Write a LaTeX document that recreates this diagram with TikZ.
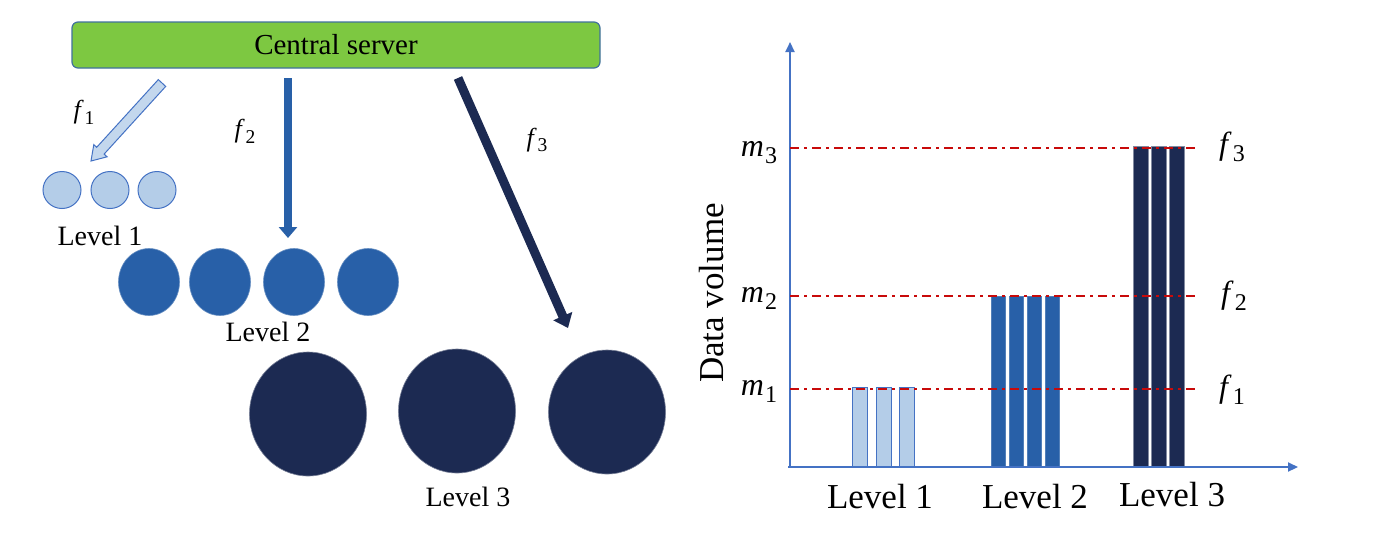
\documentclass[tikz,border=0pt]{standalone}
\usepackage{fontspec}
\setmainfont{Liberation Serif}
\usetikzlibrary{arrows.meta,shapes.geometric}
\definecolor{srvgreen}{RGB}{125,200,65}
\definecolor{srvedge}{RGB}{65,113,156}
\definecolor{lightb}{RGB}{180,205,232}
\definecolor{bordblue}{RGB}{68,114,196}
\definecolor{midb}{RGB}{40,96,168}
\definecolor{navy}{RGB}{28,42,82}
\definecolor{refred}{RGB}{200,10,10}
\newcommand{\symsub}[2]{\textit{#1}\kern1pt\raisebox{-0.22em}{\scalebox{0.75}{#2}}}
\tikzset{
  lab/.style={font=\fontsize{28}{32}\selectfont, inner sep=0pt},
  clab/.style={font=\fontsize{35}{40}\selectfont, inner sep=0pt},
  fl/.style={font=\fontsize{26}{30}\selectfont, inner sep=0pt},
  fr/.style={font=\fontsize{32}{36}\selectfont, inner sep=0pt},
  server/.style={draw=srvedge, line width=1.2pt, fill=srvgreen, rounded corners=6pt,
     minimum width=528pt, minimum height=46pt, inner sep=0pt, font=\fontsize{29}{33}\selectfont},
  cone/.style={ellipse, draw=bordblue, line width=1pt, fill=lightb, minimum width=38pt, minimum height=37pt, inner sep=0pt},
  ctwo/.style={ellipse, fill=midb, draw=midb!70!white, line width=0.6pt, minimum width=61pt, minimum height=67pt, inner sep=0pt},
  cthree/.style={ellipse, fill=navy, draw=navy!60!white, line width=0.6pt, minimum width=117pt, minimum height=124pt, inner sep=0pt},
  barone/.style={draw=bordblue, line width=1pt, fill=lightb, minimum width=15pt, inner sep=0pt, anchor=south west},
  bartwo/.style={draw=midb!80!white, line width=0.6pt, fill=midb, minimum width=14pt, inner sep=0pt, anchor=south west},
  barthree/.style={draw=navy!55!white, line width=0.8pt, fill=navy, minimum width=15pt, inner sep=0pt, anchor=south west},
  axisline/.style={draw=bordblue, line width=2pt, -{Triangle[width=9pt,length=10pt]}},
  refline/.style={draw=refred, line width=2.6pt, dash pattern=on 9pt off 5pt on 3pt off 5pt},
}
\begin{document}
\begin{tikzpicture}[x=1pt,y=-1pt]
\useasboundingbox[fill=white] (0,0) rectangle (1380,542);

% ---- left part ----
\node[server] (cs) at (336,45) {Central server};

% f1 block arrow (outline)
\coordinate (a1tail) at (162,83);
\coordinate (a1tip) at (91,161);
\draw[draw=bordblue, fill=lightb!80!white, line width=1pt, line join=miter]
  (165.7,86.4) -- (104.1,154.1) -- (107.1,156.8) -- (a1tip) -- (93.8,144.6)
  -- (96.7,147.3) -- (158.3,79.6) -- cycle;
\node[fl] (f1l) at (84,112) {\symsub{f}{1}};

% f2 arrow
\coordinate (a2tail) at (288,78);
\coordinate (a2tip) at (288,238);
\draw[draw=midb, line width=8pt, -{Triangle[width=18pt,length=11pt]}] (a2tail) -- (a2tip);
\node[fl] (f2l) at (245,131) {\symsub{f}{2}};

% f3 arrow
\coordinate (a3tail) at (458,78);
\coordinate (a3tip) at (568,328);
\draw[draw=navy, line width=9pt, -{Triangle[width=20pt,length=13pt]}] (a3tail) -- (a3tip);
\node[fl] (f3l) at (537,140) {\symsub{f}{3}};

% level 1 circles
\node[cone] (l1a) at (62,190) {};
\node[cone] (l1b) at (110,190) {};
\node[cone] (l1c) at (157,190) {};
\node[lab] (lv1) at (100,236) {Level 1};

% level 2 circles
\node[ctwo] (l2a) at (149,282) {};
\node[ctwo] (l2b) at (220,282) {};
\node[ctwo] (l2c) at (294,282) {};
\node[ctwo] (l2d) at (368,282) {};
\node[lab] (lv2) at (268,332) {Level 2};

% level 3 circles
\node[cthree] (l3a) at (308,414) {};
\node[cthree] (l3b) at (457,411) {};
\node[cthree] (l3c) at (607,412) {};
\node[lab] (lv3) at (468,497) {Level 3};

% ---- right chart ----
\coordinate (origin) at (790,467);
\coordinate (ytop) at (790,42);
\coordinate (xend) at (1298,467);
\coordinate (xstart) at (788,467);

% bars level 1
\node[barone, minimum height=79pt] (b1a) at (852,467) {};
\node[barone, minimum height=79pt] (b1b) at (876,467) {};
\node[barone, minimum height=79pt] (b1c) at (899,467) {};
% bars level 2
\node[bartwo, minimum height=170pt] (b2a) at (991,467) {};
\node[bartwo, minimum height=170pt] (b2b) at (1009,467) {};
\node[bartwo, minimum height=170pt] (b2c) at (1027,467) {};
\node[bartwo, minimum height=170pt] (b2d) at (1045,467) {};
% bars level 3
\node[barthree, minimum height=320pt] (b3a) at (1133,467) {};
\node[barthree, minimum height=320pt] (b3b) at (1151,467) {};
\node[barthree, minimum height=320pt] (b3c) at (1169,467) {};

% axes
\draw[axisline] (origin) -- (ytop);
\draw[axisline] (xstart) -- (xend);

% reference lines
\coordinate (r3a) at (790,148); \coordinate (r3b) at (1196,148);
\coordinate (r2a) at (790,296); \coordinate (r2b) at (1196,296);
\coordinate (r1a) at (790,389); \coordinate (r1b) at (1196,389);
\draw[refline] (r3a) -- (r3b);
\draw[refline] (r2a) -- (r2b);
\draw[refline] (r1a) -- (r1b);

\node[fr] (m3) at (759,153) {\symsub{m}{3}};
\node[fr] (m2) at (759,298) {\symsub{m}{2}};
\node[fr] (m1) at (759,391) {\symsub{m}{1}};
\node[fr] (f3r) at (1232,147) {\symsub{f}{3}};
\node[fr] (f2r) at (1234,296) {\symsub{f}{2}};
\node[fr] (f1r) at (1232,390) {\symsub{f}{1}};

\node[clab, rotate=90] (dv) at (712,293) {Data volume};
\node[clab] (cl1) at (880,497) {Level 1};
\node[clab] (cl2) at (1035,497) {Level 2};
\node[clab] (cl3) at (1172,495) {Level 3};
\end{tikzpicture}
\end{document}
